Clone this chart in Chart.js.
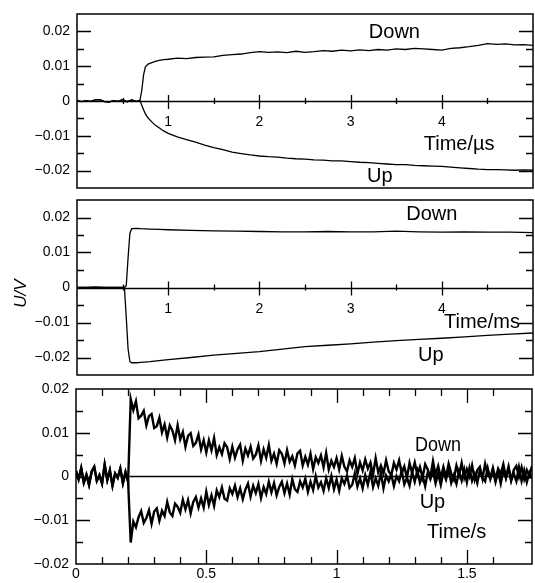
<!DOCTYPE html>
<html>
<head>
<meta charset="utf-8">
<script src="https://cdn.jsdelivr.net/npm/chart.js@4.4.1/dist/chart.umd.min.js"></script>
<style>
  html, body { margin: 0; padding: 0; background: #fff; }
  #wrap { position: relative; width: 535px; height: 583px; overflow: hidden; }
  canvas { position: absolute; left: 0; }
</style>
</head>
<body>
<div id="wrap">
  <canvas id="panel-us" width="535" height="230" style="top:-20px"></canvas>
  <canvas id="panel-ms" width="535" height="220" style="top:180px"></canvas>
  <canvas id="panel-s" width="535" height="223" style="top:360px"></canvas>
</div>
<script>
var INK = "#000"
var FONT = "'Liberation Sans', Arial, sans-serif"

// top panel, microseconds
var timesUs = [0, 0.05, 0.1, 0.15, 0.2, 0.25, 0.3, 0.35, 0.4, 0.45, 0.5, 0.55, 0.6, 0.65, 0.69,
  0.71, 0.73, 0.75, 0.78, 0.82, 0.86, 0.9, 0.95, 1.0,
  1.1, 1.2, 1.3, 1.4, 1.5, 1.6, 1.7, 1.8, 1.9, 2.0,
  2.1, 2.2, 2.3, 2.4, 2.5, 2.6, 2.7, 2.8, 2.9, 3.0,
  3.1, 3.2, 3.3, 3.4, 3.5, 3.6, 3.7, 3.8, 3.9, 4.0,
  4.1, 4.2, 4.3, 4.4, 4.5, 4.6, 4.7, 4.8, 4.9, 5.0]
var preUs = [0.0002, -0.0002, 0.0001, -0.0001, 0.0003, 0.0004, -0.0002, -0.0003, 0.0001, -0.0001, 0.0004, -0.0002, 0.0003, -0.0001, 0.0002]
var downUs = preUs.concat([0.003, 0.0075, 0.0098, 0.0106, 0.011, 0.0114, 0.0117, 0.0119, 0.012,
  0.0123, 0.0122, 0.0125, 0.0126, 0.0127, 0.0131, 0.0133, 0.0135, 0.0139, 0.0142,
  0.0140, 0.0141, 0.0139, 0.0143, 0.0140, 0.0142, 0.0145, 0.0143, 0.0146, 0.0144,
  0.0147, 0.0145, 0.0148, 0.0146, 0.0150, 0.0148, 0.0151, 0.0150, 0.0148, 0.0146,
  0.0151, 0.0153, 0.0156, 0.0160, 0.0165, 0.0163, 0.0164, 0.0161, 0.0162, 0.0160])
var upUs = preUs.concat([-0.0012, -0.0025, -0.0037, -0.0049, -0.0060, -0.0070, -0.0077, -0.0086, -0.0093,
  -0.0103, -0.0111, -0.0118, -0.0127, -0.0134, -0.0140, -0.0147, -0.0151, -0.0155, -0.0158,
  -0.0160, -0.0161, -0.0164, -0.0166, -0.0167, -0.0169, -0.0170, -0.0172, -0.0172, -0.0174,
  -0.0176, -0.0177, -0.0179, -0.0181, -0.0183, -0.0183, -0.0185, -0.0186, -0.0187, -0.0188,
  -0.0190, -0.0192, -0.0194, -0.0196, -0.0197, -0.0197, -0.0198, -0.0199, -0.0198, -0.0199])

// middle panel, milliseconds
var timesMs = [0, 0.1, 0.2, 0.3, 0.4, 0.48, 0.5, 0.52, 0.54, 0.56, 0.58, 0.6, 0.65, 0.7, 0.8, 0.9, 1.0,
  1.25, 1.5, 1.75, 2.0, 2.25, 2.5, 2.75, 3.0, 3.25, 3.5, 3.75, 4.0, 4.25, 4.5, 4.75, 5.0]
var preMs = [0, 0, 0.0001, 0, 0, 0, 0, 0]
var downMs = preMs.concat([0.0005, 0.0085, 0.0155, 0.0168, 0.0169, 0.0168, 0.0167, 0.0166, 0.0165,
  0.0163, 0.0162, 0.0161, 0.0160, 0.0159, 0.0159, 0.0160, 0.0159, 0.0159, 0.0161, 0.0159, 0.0158, 0.0159, 0.0158, 0.0158, 0.0157])
var upMs = preMs.concat([-0.0085, -0.0175, -0.0212, -0.0215, -0.0215, -0.0214, -0.0212, -0.0209, -0.0206,
  -0.0200, -0.0193, -0.0188, -0.0183, -0.0176, -0.0169, -0.0165, -0.0161, -0.0156, -0.0152, -0.0148, -0.0145, -0.0141, -0.0137, -0.0133, -0.0130])

// bottom panel, seconds
var timesS = [0, 0.01, 0.02, 0.03, 0.04, 0.05, 0.06, 0.07, 0.08, 0.09,
  0.1, 0.11, 0.12, 0.13, 0.14, 0.15, 0.16, 0.17, 0.18, 0.19,
  0.2, 0.21, 0.22, 0.23, 0.24, 0.25, 0.26, 0.27, 0.28, 0.29,
  0.3, 0.31, 0.32, 0.33, 0.34, 0.35, 0.36, 0.37, 0.38, 0.39,
  0.4, 0.41, 0.42, 0.43, 0.44, 0.45, 0.46, 0.47, 0.48, 0.49,
  0.5, 0.51, 0.52, 0.53, 0.54, 0.55, 0.56, 0.57, 0.58, 0.59,
  0.6, 0.61, 0.62, 0.63, 0.64, 0.65, 0.66, 0.67, 0.68, 0.69,
  0.7, 0.71, 0.72, 0.73, 0.74, 0.75, 0.76, 0.77, 0.78, 0.79,
  0.8, 0.81, 0.82, 0.83, 0.84, 0.85, 0.86, 0.87, 0.88, 0.89,
  0.9, 0.91, 0.92, 0.93, 0.94, 0.95, 0.96, 0.97, 0.98, 0.99,
  1.0, 1.01, 1.02, 1.03, 1.04, 1.05, 1.06, 1.07, 1.08, 1.09,
  1.1, 1.11, 1.12, 1.13, 1.14, 1.15, 1.16, 1.17, 1.18, 1.19,
  1.2, 1.21, 1.22, 1.23, 1.24, 1.25, 1.26, 1.27, 1.28, 1.29,
  1.3, 1.31, 1.32, 1.33, 1.34, 1.35, 1.36, 1.37, 1.38, 1.39,
  1.4, 1.41, 1.42, 1.43, 1.44, 1.45, 1.46, 1.47, 1.48, 1.49,
  1.5, 1.51, 1.52, 1.53, 1.54, 1.55, 1.56, 1.57, 1.58, 1.59,
  1.6, 1.61, 1.62, 1.63, 1.64, 1.65, 1.66, 1.67, 1.68, 1.69,
  1.7, 1.71, 1.72, 1.73, 1.74, 1.75]
var preS = [0.0013, -0.0006, 0.0019, -0.0014, 0.0004, -0.0019, 0.0011, 0.0022, -0.0010, 0.0003,
  -0.0016, 0.0027, -0.0008, 0.0014, -0.0021, 0.0007, -0.0003, 0.0018, -0.0015, 0.0010, -0.0012]
var downS = preS.concat([
  0.0177, 0.0152, 0.0172, 0.0133, 0.0139, 0.0150, 0.0117, 0.0138, 0.0143, 0.0111,
  0.0115, 0.0134, 0.0101, 0.0119, 0.0089, 0.0117, 0.0105, 0.0083, 0.0117, 0.0085,
  0.0102, 0.0068, 0.0093, 0.0099, 0.0070, 0.0077, 0.0096, 0.0062, 0.0083, 0.0055,
  0.0083, 0.0060, 0.0088, 0.0049, 0.0067, 0.0051, 0.0076, 0.0067, 0.0040, 0.0068,
  0.0043, 0.0062, 0.0073, 0.0036, 0.0064, 0.0048, 0.0068, 0.0041, 0.0050, 0.0071,
  0.0036, 0.0062, 0.0043, 0.0072, 0.0036, 0.0052, 0.0029, 0.0060, 0.0052, 0.0030,
  0.0060, 0.0034, 0.0046, 0.0025, 0.0053, 0.0059, 0.0025, 0.0045, 0.0027, 0.0052,
  0.0017, 0.0044, 0.0031, 0.0048, 0.0021, 0.0054, 0.0016, 0.0036, 0.0022, 0.0042,
  0.0016, 0.0047, 0.0022, 0.0012, 0.0037, 0.0022, 0.0042, 0.0006, 0.0032, 0.0014,
  0.0039, 0.0018, 0.0032, 0.0004, 0.0042, 0.0009, 0.0025, 0.0007, 0.0037, 0.0012,
  0.0003, 0.0031, 0.0016, 0.0037, 0.0007, 0.0023, -0.0003, 0.0031, 0.0008, 0.0032,
  0.0004, 0.0022, -0.0003, 0.0028, 0.0016, -0.0001, 0.0035, 0.0004, 0.0024, -0.0003,
  0.0022, -0.0001, 0.0029, 0.0007, -0.0007, 0.0025, 0.0003, 0.0031, -0.0003, 0.0017,
  0.0000, 0.0026, -0.0007, 0.0014, 0.0022, -0.0005, 0.0029, 0.0003, -0.0003, 0.0020,
  -0.0006, 0.0018, 0.0006, 0.0028, -0.0002, 0.0023, -0.0009, 0.0015, 0.0024, -0.0001,
  0.0021, -0.0006, 0.0015, 0.0002, 0.0024])
var upS = preS.concat([
  -0.0151, -0.0103, -0.0116, -0.0093, -0.0079, -0.0106, -0.0095, -0.0077, -0.0108, -0.0080,
  -0.0073, -0.0101, -0.0078, -0.0090, -0.0058, -0.0082, -0.0090, -0.0062, -0.0069, -0.0083,
  -0.0053, -0.0075, -0.0054, -0.0084, -0.0058, -0.0047, -0.0071, -0.0050, -0.0071, -0.0035,
  -0.0065, -0.0043, -0.0067, -0.0032, -0.0047, -0.0025, -0.0051, -0.0055, -0.0027, -0.0040,
  -0.0021, -0.0047, -0.0027, -0.0052, -0.0030, -0.0016, -0.0046, -0.0021, -0.0038, -0.0017,
  -0.0049, -0.0024, -0.0040, -0.0012, -0.0036, -0.0015, -0.0043, -0.0024, -0.0012, -0.0038,
  -0.0016, -0.0041, -0.0006, -0.0029, -0.0035, -0.0011, -0.0025, -0.0005, -0.0035, -0.0012,
  -0.0031, 0.0001, -0.0025, -0.0013, -0.0033, -0.0004, -0.0026, 0.0001, -0.0029, -0.0007,
  -0.0033, -0.0004, -0.0017, 0.0002, -0.0026, -0.0019, 0.0007, -0.0023, -0.0004, -0.0027,
  0.0003, -0.0019, 0.0010, -0.0024, -0.0004, -0.0021, 0.0008, -0.0027, 0.0002, -0.0011,
  0.0005, -0.0022, 0.0001, -0.0011, 0.0013, -0.0018, -0.0002, -0.0021, 0.0010, -0.0012,
  0.0013, -0.0014, 0.0003, -0.0022, 0.0010, -0.0006, 0.0013, -0.0016, 0.0007, -0.0019,
  0.0010, -0.0007, 0.0017, -0.0015, 0.0003, -0.0017, 0.0012, -0.0009, 0.0016, -0.0013,
  0.0019, -0.0010, 0.0006, -0.0015, 0.0015, -0.0003, -0.0011, 0.0019, -0.0006, 0.0013,
  -0.0013, 0.0011, -0.0016, 0.0015, -0.0004, 0.0019, -0.0009, 0.0007, -0.0011, 0.0021,
  -0.0010, 0.0014, -0.0013, 0.0009, -0.0005])
var baseS_x = [0.205, 1.75]
var baseS_y = [0, 0]

function pts(xs, ys) {
  return xs.map(function (x, i) { return { x: x, y: ys[i] } })
}

function near(v, step) {
  var q = v / step
  return Math.abs(q - Math.round(q)) < 1e-6
}

function volts(v) {
  if (!near(v, 0.01)) return ''
  var r = Math.round(v * 100) / 100
  if (r === 0) return '0'
  return (r < 0 ? '\u2212' : '') + Math.abs(r).toFixed(2)
}

// frame, inward tick marks and the text notes
function frame(opt) {
  return {
    id: 'frame',
    afterDatasetsDraw: function (chart) {
      var ctx = chart.ctx, a = chart.chartArea, x = chart.scales.x, y = chart.scales.y
      ctx.save()
      ctx.strokeStyle = INK
      ctx.lineWidth = 1.5
      ctx.strokeRect(a.left, a.top, a.right - a.left, a.bottom - a.top)
      ctx.lineWidth = 1.3
      ctx.beginPath()
      y.ticks.forEach(function (t) {
        if (t.value <= y.min || t.value >= y.max || !near(t.value, 0.005)) return
        var len = near(t.value, 0.01) ? 14 : 7
        var py = Math.round(y.getPixelForValue(t.value)) + 0.5
        ctx.moveTo(a.left, py); ctx.lineTo(a.left + len, py)
        ctx.moveTo(a.right, py); ctx.lineTo(a.right - len, py)
      })
      x.ticks.forEach(function (t) {
        if (t.value <= x.min || t.value >= x.max || !near(t.value, opt.minor)) return
        var major = near(t.value, opt.major)
        var px = Math.round(x.getPixelForValue(t.value)) + 0.5
        if (opt.zeroAxis) {
          var p0 = y.getPixelForValue(0)
          ctx.moveTo(px, p0 - (major ? 6 : 3)); ctx.lineTo(px, p0 + (major ? 8 : 3))
        } else {
          var len = major ? 14 : 7
          ctx.moveTo(px, a.top); ctx.lineTo(px, a.top + len)
          ctx.moveTo(px, a.bottom); ctx.lineTo(px, a.bottom - len)
        }
      })
      if (opt.zeroAxis) {
        var pz = Math.round(y.getPixelForValue(0)) + 0.5
        ctx.moveTo(a.left, pz); ctx.lineTo(a.right, pz)
      }
      ctx.stroke()
      ctx.fillStyle = INK
      ctx.font = '20px ' + FONT
      ctx.textAlign = 'center'
      ctx.textBaseline = 'middle'
      opt.notes.forEach(function (n) {
        if (n[3]) ctx.fillText(n[0], x.getPixelForValue(n[1]), y.getPixelForValue(n[2]), n[3])
        else ctx.fillText(n[0], x.getPixelForValue(n[1]), y.getPixelForValue(n[2]))
      })
      if (opt.yTitle) {
        ctx.translate(21, (a.top + a.bottom) / 2 + 6)
        ctx.rotate(-Math.PI / 2)
        ctx.font = 'italic 17px ' + FONT
        ctx.fillText(opt.yTitle, 0, 0)
      }
      ctx.restore()
    }
  }
}

function line(xs, ys, w) {
  return { data: pts(xs, ys), borderColor: INK, borderWidth: w || 1.3,
    pointRadius: 0, fill: false, tension: 0 }
}

function yScale(lim, width) {
  return {
    type: 'linear', position: 'left', min: -lim, max: lim,
    grid: { display: false, drawTicks: false },
    border: { display: false },
    ticks: { stepSize: 0.005, autoSkip: false, padding: 7, color: INK, font: { family: FONT, size: 14 }, callback: volts },
    afterFit: function (s) { s.width = width }
  }
}

function zeroX() {
  return {
    type: 'linear', min: 0, max: 5, position: { y: 0 },
    grid: { display: false, drawTicks: false },
    border: { display: false },
    ticks: {
      stepSize: 0.5, autoSkip: false, maxRotation: 0, padding: 13, color: INK, font: { family: FONT, size: 14 },
      callback: function (v) { return near(v, 1) && v > 0 && v < 5 ? String(Math.round(v)) : '' }
    },
    afterFit: function (s) { s.paddingLeft = 0; s.paddingRight = 0 }
  }
}

function base(pad) {
  return {
    responsive: false, animation: false, devicePixelRatio: 1, events: [],
    layout: { padding: pad },
    plugins: { legend: { display: false }, tooltip: { enabled: false } }
  }
}

var o1 = base({ top: 34, bottom: 22, left: 0, right: 2 })
o1.scales = { x: zeroX(), y: yScale(0.025, 77) }
new Chart(document.getElementById('panel-us'), {
  type: 'line',
  data: { datasets: [line(timesUs, downUs), line(timesUs, upUs)] },
  options: o1,
  plugins: [frame({ zeroAxis: true, minor: 0.5, major: 1,
    notes: [['Down', 3.48, 0.0197], ['Time/\u00b5s', 4.19, -0.0125], ['Up', 3.32, -0.0217]] })]
})

var o2 = base({ top: 20, bottom: 25, left: 0, right: 2 })
o2.scales = { x: zeroX(), y: yScale(0.025, 77) }
new Chart(document.getElementById('panel-ms'), {
  type: 'line',
  data: { datasets: [line(timesMs, downMs), line(timesMs, upMs)] },
  options: o2,
  plugins: [frame({ zeroAxis: true, minor: 0.5, major: 1, yTitle: 'U/V',
    notes: [['Down', 3.89, 0.021], ['Time/ms', 4.44, -0.0099], ['Up', 3.88, -0.0195]] })]
})

var o3 = base({ top: 29, bottom: 0, left: 0, right: 3 })
o3.scales = {
  x: {
    type: 'linear', min: 0, max: 1.75, position: 'bottom',
    grid: { display: false, drawTicks: false },
    border: { display: false },
    ticks: {
      stepSize: 0.1, autoSkip: false, maxRotation: 0, padding: 2, color: INK, font: { family: FONT, size: 14 },
      callback: function (v) { return near(v, 0.5) ? String(Math.round(v * 10) / 10) : '' }
    },
    afterFit: function (s) { s.height = 19; s.paddingLeft = 0; s.paddingRight = 0 }
  },
  y: yScale(0.02, 76)
}
new Chart(document.getElementById('panel-s'), {
  type: 'line',
  data: { datasets: [line(timesS, downS, 2.4), line(timesS, upS, 2.4), line(baseS_x, baseS_y)] },
  options: o3,
  plugins: [frame({ zeroAxis: false, minor: 0.1, major: 0.5,
    notes: [['Down', 1.389, 0.0071, 46], ['Up', 1.368, -0.0059], ['Time/s', 1.461, -0.0129]] })]
})
</script>
</body>
</html>
